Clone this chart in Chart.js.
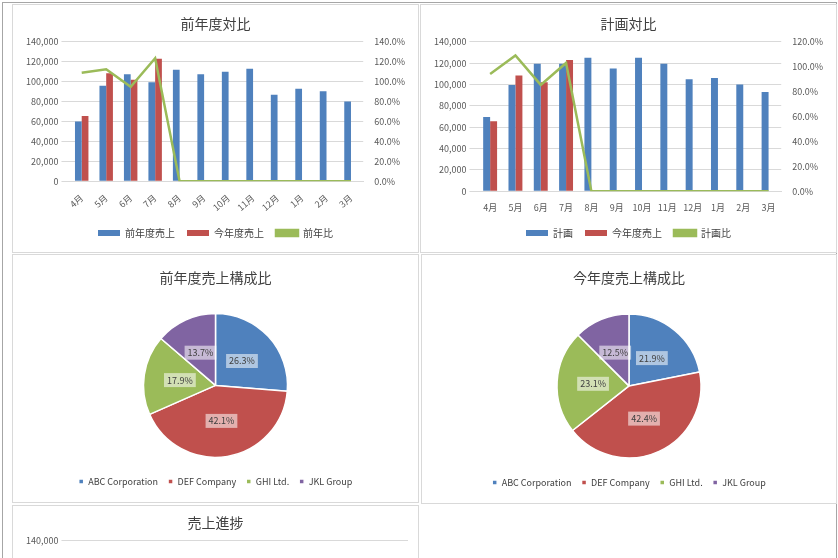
<!DOCTYPE html>
<html><head><meta charset="utf-8">
<script src="https://cdn.jsdelivr.net/npm/chart.js@4"></script>
<style>
body{margin:0;background:#fff;font-family:"Noto Sans CJK JP";}
#outer{position:absolute;left:2px;top:2px;width:833px;height:560px;border:1px solid #a6a6a6;}
.p{position:absolute;border:1px solid #d9d9d9;background:#fff;overflow:hidden;}
</style></head><body>
<div id="outer"></div>
<div class="p" style="left:12px;top:4px;width:405px;height:247px"><canvas id="c1"></canvas></div>
<div class="p" style="left:420px;top:4px;width:415px;height:247px"><canvas id="c2"></canvas></div>
<div class="p" style="left:12px;top:254px;width:405px;height:247px"><canvas id="c3"></canvas></div>
<div class="p" style="left:421px;top:254px;width:414px;height:248px"><canvas id="c4"></canvas></div>
<div class="p" style="left:12px;top:505px;width:405px;height:60px"><div style="position:absolute;left:0;top:0;width:405px;height:250px"><canvas id="c5"></canvas></div></div>
<script>
const months=['4月','5月','6月','7月','8月','9月','10月','11月','12月','1月','2月','3月'];
const prevSales=[60000,96000,107500,99500,112000,107500,110000,113000,87000,93000,90500,80000];
const curSales=[65500,108500,102000,123000,null,null,null,null,null,null,null,null];
const prevRatio=[109,112.5,94.9,123.6,0,0,0,0,0,0,0,0];
const planSales=[69500,99500,119500,119500,125000,115000,125000,119500,105000,106000,100000,93000];
const planRatio=[94.2,109,85.4,103,0,0,0,0,0,0,0,0];
const customers=['ABC Corporation','DEF Company','GHI Ltd.','JKL Group'];
const prevShare=[26.3,42.1,17.9,13.7];
const curShare=[21.9,42.4,23.1,12.5];
const BLUE='#4F81BD',RED='#C0504D',GREEN='#9BBB59',PURPLE='#8064A2';
Chart.defaults.font.family='"Noto Sans CJK JP"';
Chart.defaults.color='#595959';
Chart.defaults.animation=false;
Chart.defaults.maintainAspectRatio=false;
const grid={color:'#d9d9d9'};
function combo(id,title,barLabel,barData,lineLabel,lineData,rmax){
  new Chart(document.getElementById(id),{
    data:{labels:months,datasets:[
      {type:'line',label:lineLabel,data:lineData,yAxisID:'y1',borderColor:GREEN,backgroundColor:GREEN,borderWidth:2.5,pointRadius:0,tension:0,order:0},
      {type:'bar',label:barLabel,data:barData,backgroundColor:BLUE,categoryPercentage:0.55,barPercentage:1,order:1},
      {type:'bar',label:'今年度売上',data:curSales,backgroundColor:RED,categoryPercentage:0.55,barPercentage:1,order:1}
    ]},
    options:{responsive:true,layout:{padding:{left:10,right:10,top:2,bottom:4}},
      plugins:{title:{display:true,text:title,font:{size:14,weight:'normal'},color:'#404040',padding:{top:8,bottom:10}},
        legend:{position:'bottom',labels:{boxWidth:22,boxHeight:6,font:{size:10},color:'#404040',padding:12,
          sort:(a,b)=>[1,2,0].indexOf(a.datasetIndex)-[1,2,0].indexOf(b.datasetIndex)}},tooltip:{enabled:false}},
      scales:{x:{grid:{display:false},border:{color:'#d9d9d9'},ticks:{font:{size:9}}},
        y:{min:0,max:140000,ticks:{stepSize:20000,font:{size:9},callback:v=>v.toLocaleString('en-US')},grid:grid,border:{display:false}},
        y1:{position:'right',min:0,max:rmax,ticks:{stepSize:20,font:{size:9},callback:v=>v.toFixed(1)+'%'},grid:{display:false},border:{display:false}}}}
  });
}
combo('c1','前年度対比','前年度売上',prevSales,'前年比',prevRatio,140);
combo('c2','計画対比','計画',planSales,'計画比',planRatio,120);
const pieLabels={id:'pieLabels',afterDatasetsDraw(ch){
  const ctx=ch.ctx;const meta=ch.getDatasetMeta(0);
  ctx.save();ctx.font='9px "Noto Sans CJK JP"';ctx.textAlign='center';ctx.textBaseline='middle';
  meta.data.forEach((a,i)=>{const p=a.tooltipPosition();const t=ch.data.datasets[0].data[i].toFixed(1)+'%';
    const w=ctx.measureText(t).width+6;ctx.fillStyle='rgba(255,255,255,0.55)';ctx.fillRect(p.x-w/2,p.y-7,w,14);
    ctx.fillStyle='#404040';ctx.fillText(t,p.x,p.y);});
  ctx.restore();}};
function pie(id,title,data){
  new Chart(document.getElementById(id),{type:'pie',data:{labels:customers,datasets:[{data:data,backgroundColor:[BLUE,RED,GREEN,PURPLE],borderColor:'#fff',borderWidth:1.5}]},
    options:{layout:{padding:{top:6,bottom:6}},plugins:{title:{display:true,text:title,font:{size:14,weight:'normal'},color:'#404040',padding:{top:8,bottom:18}},
      legend:{position:'bottom',labels:{usePointStyle:true,pointStyle:'rect',boxWidth:5,boxHeight:5,font:{size:9},color:'#404040',padding:10},
        },tooltip:{enabled:false}},
      radius:72},plugins:[pieLabels]});
}
pie('c3','前年度売上構成比',prevShare);
pie('c4','今年度売上構成比',curShare);
new Chart(document.getElementById('c5'),{type:'line',data:{labels:months,datasets:[{data:[],borderColor:BLUE}]},
  options:{layout:{padding:{left:10,right:10}},plugins:{legend:{display:false},title:{display:true,text:'売上進捗',font:{size:14,weight:'normal'},color:'#404040',padding:{top:8,bottom:10}}},
    scales:{x:{display:false},y:{min:0,max:140000,ticks:{stepSize:20000,font:{size:9}},grid:grid,border:{display:false}}}}});
</script></body></html>
